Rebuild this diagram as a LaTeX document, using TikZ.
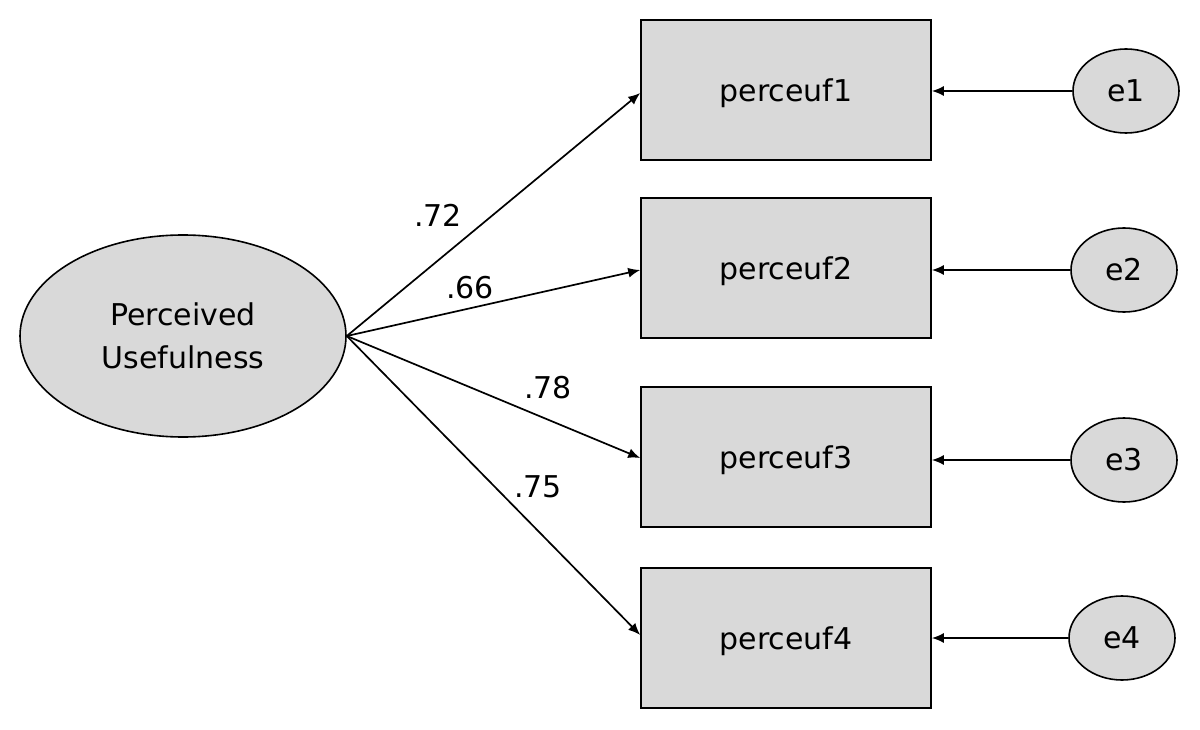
\documentclass[tikz,border=0pt]{standalone}
\usepackage{fontspec}
\setmainfont{DejaVu Sans}
\usetikzlibrary{arrows.meta, shapes.geometric}
\definecolor{boxgray}{HTML}{D9D9D9}
\tikzset{
  latent/.style = {draw, fill = boxgray, ellipse, line width = 1.6pt, inner sep = 0pt},
  observed/.style = {draw, fill = boxgray, rectangle, line width = 1.6pt, minimum width = 290pt, minimum height = 140pt, text depth = 0pt},
  effect/.style = {line width = 1.7pt, -{Latex[length = 12pt, width = 10pt]}},
  loading/.style = {inner sep = 0pt}
}
\begin{document}
\begin{tikzpicture}[x = 1pt, y = -1pt, font = \fontsize{30}{43}\selectfont]
\useasboundingbox (0, 0) rectangle (1200, 730);
% latent factor
\node [latent, minimum width = 326pt, minimum height = 202pt, align = center] (pu) at (183, 336) {Perceived\\Usefulness};
% indicators
\node [observed] (p1) at (786, 90) {perceuf1};
\node [observed] (p2) at (786, 268) {perceuf2};
\node [observed] (p3) at (786, 457) {perceuf3};
\node [observed] (p4) at (786, 638) {perceuf4};
% errors
\node [latent, minimum width = 106pt, minimum height = 84pt] (e1) at (1126, 91) {e1};
\node [latent, minimum width = 106pt, minimum height = 84pt] (e2) at (1124, 270) {e2};
\node [latent, minimum width = 106pt, minimum height = 84pt] (e3) at (1124, 460) {e3};
\node [latent, minimum width = 106pt, minimum height = 84pt] (e4) at (1122, 638) {e4};
% loadings
\draw [effect] (pu.east) -- ([yshift = -3pt]p1.west);
\draw [effect] (pu.east) -- ([yshift = -2pt]p2.west);
\draw [effect] (pu.east) -- ([yshift = -1pt]p3.west);
\draw [effect] (pu.east) -- ([yshift = 3pt]p4.west);
\node [loading] (l1) at (438, 215) {.72};
\node [loading] (l2) at (470, 288) {.66};
\node [loading] (l3) at (548, 388) {.78};
\node [loading] (l4) at (538, 487) {.75};
% error paths
\draw [effect] (e1.west) -- (e1.west -| p1.east);
\draw [effect] (e2.west) -- (e2.west -| p2.east);
\draw [effect] (e3.west) -- (e3.west -| p3.east);
\draw [effect] (e4.west) -- (e4.west -| p4.east);
\end{tikzpicture}
\end{document}
